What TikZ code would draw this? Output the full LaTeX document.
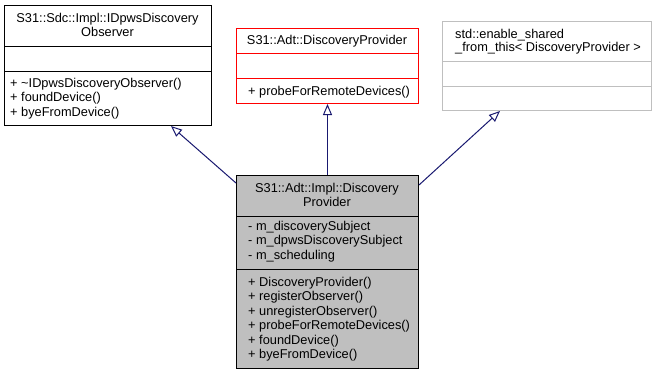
\documentclass[tikz,border=0pt]{standalone}
\usepackage{fontspec}
\setmainfont{Liberation Sans}
\usetikzlibrary{calc,arrows.meta}
\definecolor{edgeblue}{HTML}{191970}
\definecolor{boxgray}{HTML}{BFBFBF}
\definecolor{boxred}{HTML}{FF0000}
\begin{document}
\begin{tikzpicture}[x=1pt,y=-1pt,
  cls/.style={draw, line width=1pt, inner sep=0pt, anchor=north west},
  txt/.style={inner sep=0pt, anchor=base west, font=\fontsize{12.8}{14}\selectfont},
  ttl/.style={inner sep=0pt, anchor=base, font=\fontsize{12.8}{14}\selectfont},
  divider/.style={line width=1pt},
  inh/.style={draw=edgeblue, line width=1pt,
    -{Triangle[open, length=11pt, width=9pt, fill=white]}}
]
\useasboundingbox[fill=white] (0,0) rectangle (657,375);

% ---- S31::Sdc::Impl::IDpwsDiscoveryObserver ----
\node[cls, minimum width=207pt, minimum height=120pt] (obs) at (4,5) {};
\draw[divider] (obs.north west |- 0,46) -- (obs.north east |- 0,46);
\draw[divider] (obs.north west |- 0,71) -- (obs.north east |- 0,71);
\node[ttl] (obsT1) at (107.5,22.5) {S31::Sdc::Impl::IDpwsDiscovery};
\node[ttl] (obsT2) at (107.5,36.5) {Observer};
\node[txt] (obsM1) at (10,87) {+ \textasciitilde IDpwsDiscoveryObserver()};
\node[txt] (obsM2) at (10,101.5) {+ foundDevice()};
\node[txt] (obsM3) at (10,116) {+ byeFromDevice()};

% ---- S31::Adt::DiscoveryProvider ----
\node[cls, draw=boxred, minimum width=182pt, minimum height=75pt] (prov) at (236,28) {};
\draw[divider, boxred] (prov.north west |- 0,53) -- (prov.north east |- 0,53);
\draw[divider, boxred] (prov.north west |- 0,78) -- (prov.north east |- 0,78);
\node[ttl] (provT1) at (327,44) {S31::Adt::DiscoveryProvider};
\node[txt] (provM1) at (248,95) {+ probeForRemoteDevices()};

% ---- std::enable_shared_from_this< DiscoveryProvider > ----
\node[cls, draw=boxgray, minimum width=209pt, minimum height=89pt] (esft) at (442,21) {};
\draw[divider, boxgray] (esft.north west |- 0,61) -- (esft.north east |- 0,61);
\draw[divider, boxgray] (esft.north west |- 0,86) -- (esft.north east |- 0,86);
\node[txt] (esftT1) at (455,38) {std::enable\_shared};
\node[txt] (esftT2) at (455,51) {\_from\_this\textless{} DiscoveryProvider \textgreater};

% ---- S31::Adt::Impl::DiscoveryProvider ----
\node[cls, fill=boxgray, minimum width=182pt, minimum height=193pt] (impl) at (236,175) {};
\draw[divider] (impl.north west |- 0,216) -- (impl.north east |- 0,216);
\draw[divider] (impl.north west |- 0,269) -- (impl.north east |- 0,269);
\node[ttl] (implT1) at (327,192) {S31::Adt::Impl::Discovery};
\node[ttl] (implT2) at (327,206) {Provider};
\node[txt] (implA1) at (248,230) {- m\_discoverySubject};
\node[txt] (implA2) at (248,244.5) {- m\_dpwsDiscoverySubject};
\node[txt] (implA3) at (248,259) {- m\_scheduling};
\node[txt] (implM1) at (248,286) {+ DiscoveryProvider()};
\node[txt] (implM2) at (248,300.5) {+ registerObserver()};
\node[txt] (implM3) at (248,315) {+ unregisterObserver()};
\node[txt] (implM4) at (248,329.5) {+ probeForRemoteDevices()};
\node[txt] (implM5) at (248,344) {+ foundDevice()};
\node[txt] (implM6) at (248,358.5) {+ byeFromDevice()};

% ---- generalisation edges ----
\draw[inh] ($(impl.north west)+(0,8)$) -- ($(obs.south west)+(167,0)$);
\draw[inh] (impl.north) -- (prov.south);
\draw[inh] ($(impl.north east)+(0,10)$) -- ($(esft.south west)+(58,0)$);
\end{tikzpicture}
\end{document}
